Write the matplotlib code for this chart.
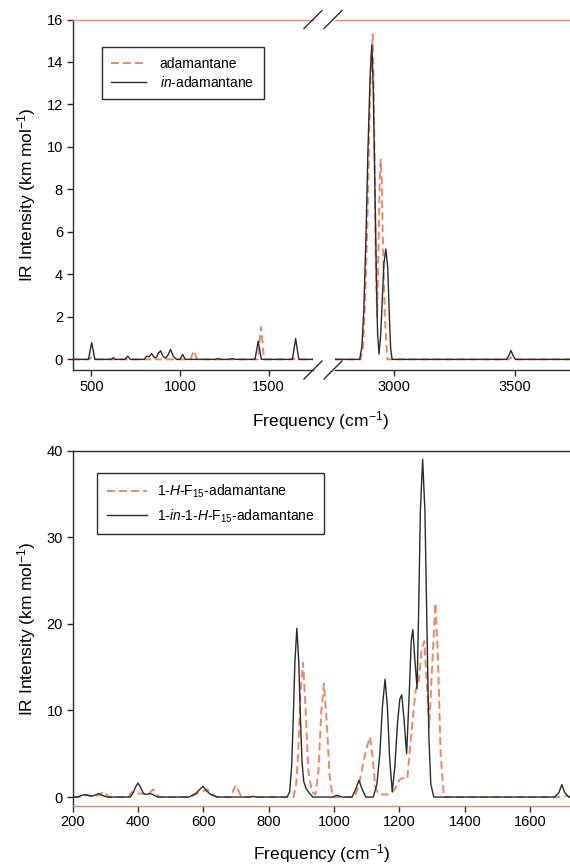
"""IR spectra of adamantane / in-adamantane and the fluorinated pair"""
import matplotlib
matplotlib.use("Agg")
import matplotlib.pyplot as plt

plt.rcParams['font.family'] = ['Liberation Sans', 'DejaVu Sans']
plt.rcParams['mathtext.fontset'] = 'custom'
plt.rcParams['mathtext.rm'] = 'Liberation Sans'
plt.rcParams['mathtext.it'] = 'Liberation Sans:italic'

RED = '#EE8668'
DARK = '#2b2b2b'

# ---- top panel, left part of the broken axis (cm-1, km/mol) ----
adam_lo_x = [395, 485, 498, 511, 770, 780, 788, 796, 840, 850, 858, 866,
             1060, 1068, 1078, 1088, 1096, 1440, 1448, 1457, 1466, 1474,
             1628, 1637, 1646, 1750]
adam_lo_y = [0, 0, 0.08, 0, 0, 0.03, 0.06, 0, 0, 0.05, 0.08, 0,
             0, 0.2, 0.4, 0.2, 0, 0, 0.75, 1.52, 0.75, 0,
             0, 0.06, 0, 0]
inadam_lo_x = [395, 484, 493, 502, 511, 520, 612, 624, 636, 690, 705, 720,
               798, 812, 826, 840, 856, 868, 878, 891, 904, 918, 932, 947,
               962, 980, 1000, 1015, 1030, 1200, 1215, 1230, 1280, 1295, 1310,
               1423, 1432, 1441, 1450, 1459, 1634, 1643, 1652, 1661, 1670, 1750]
inadam_lo_y = [0, 0, 0.4, 0.78, 0.4, 0, 0, 0.08, 0, 0, 0.15, 0,
               0, 0.15, 0.12, 0.27, 0.08, 0.1, 0.3, 0.4, 0.15, 0.05, 0.2, 0.47,
               0.15, 0, 0, 0.23, 0, 0, 0.04, 0, 0, 0.04, 0,
               0, 0.43, 0.86, 0.43, 0, 0, 0.5, 0.98, 0.5, 0, 0]

# ---- top panel, right part of the broken axis ----
adam_hi_x = [2755, 2862, 2872, 2880, 2890, 2898, 2905, 2912, 2918, 2924, 2930,
             2937, 2941, 2945, 2949, 2953, 2962, 2972, 3475, 3483, 3491, 3730]
adam_hi_y = [0, 0, 0.6, 2.5, 6.5, 11, 14, 15.3, 11, 5, 2.0,
             6.0, 8.6, 9.4, 8.4, 6.0, 2.0, 0, 0, 0.1, 0, 0]
inadam_hi_x = [2755, 2858, 2867, 2875, 2884, 2892, 2901, 2908, 2914, 2921, 2927,
               2932, 2938, 2945, 2952, 2958, 2966, 2974, 2981, 2986, 2992,
               3465, 3475, 3483, 3491, 3501, 3730]
inadam_hi_y = [0, 0, 0.6, 2.3, 5.8, 9.8, 13.3, 14.8, 12.8, 8.1, 3.8,
               1.2, 0.25, 1.2, 3.0, 4.5, 5.2, 4.3, 1.9, 0.5, 0,
               0, 0.2, 0.42, 0.2, 0, 0]

# ---- bottom panel ----
hf_x = [200, 230, 243, 255, 270, 285, 294, 303, 312, 370, 381, 392, 402, 412,
        425, 436, 446, 455, 465, 560, 575, 590, 600, 612, 624, 640, 684, 692,
        699, 706, 717, 876, 884, 890, 897, 905, 913, 921, 932, 943, 952, 961, 969,
        977, 986, 996, 1062, 1075, 1089, 1098, 1110, 1118, 1126, 1136, 1170,
        1186, 1200, 1212, 1224, 1238, 1250, 1258, 1268, 1276, 1284, 1291, 1300,
        1310, 1318, 1326, 1336, 1700, 1710, 1720, 1725]
hf_y = [0, 0, 0.25, 0.15, 0.1, 0.3, 0.66, 0.3, 0, 0, 0.6, 0.5, 0.4, 0.4,
        0.3, 0.5, 0.9, 0.4, 0, 0, 0.3, 0.6, 0.7, 0.9, 0.4, 0, 0, 0.8,
        1.35, 0.8, 0, 0, 1.5, 5, 12, 15.5, 10, 3, 0.6, 0.3, 3, 10, 13.1,
        9, 2.5, 0, 0, 1.2, 3.86, 5.5, 6.94, 4.5, 1.2, 0.3, 0.3,
        0.9, 2.0, 2.2, 2.1, 8, 12.5, 13, 17, 18, 13, 8.1, 15,
        22.4, 16, 5, 0, 0, 0.15, 0, 0]
inhf_x = [200, 215, 228, 238, 250, 260, 270, 279, 290, 305, 376, 385, 393, 400,
          408, 416, 424, 438, 450, 460, 556, 568, 578, 588, 599, 610, 622, 643,
          740, 751, 762, 856, 864, 870, 875, 880, 886, 892, 897, 902, 907, 914,
          925, 935, 995, 1009, 1025, 1055, 1066, 1076, 1086, 1097, 1120, 1131,
          1140, 1148, 1156, 1163, 1170, 1178, 1186, 1194, 1201, 1207, 1214, 1222,
          1230, 1236, 1241, 1247, 1254, 1259, 1264, 1271, 1278, 1284, 1290, 1296,
          1305, 1675, 1688, 1697, 1706, 1719, 1725]
inhf_y = [0, 0, 0.2, 0.28, 0.15, 0.1, 0.25, 0.4, 0.2, 0, 0, 0.5, 1.2, 1.62,
          1.1, 0.45, 0.3, 0.4, 0.2, 0, 0, 0.25, 0.45, 0.85, 1.24, 0.7, 0.3, 0,
          0, 0.08, 0, 0, 0.6, 3.5, 9, 15.5, 19.5, 15.5, 9, 4, 1.8, 1.0,
          0.4, 0, 0, 0.2, 0, 0, 0.9, 1.93, 0.9, 0, 0, 1.5,
          5, 10.5, 13.6, 10.5, 4.5, 0.6, 3.5, 8.5, 11.3, 11.8, 9, 5.0,
          12, 18, 19.35, 16, 12.5, 22, 33, 39, 33, 20, 7, 1.5,
          0, 0, 0.5, 1.43, 0.5, 0, 0]

W, H = 570, 868
fig = plt.figure(figsize=(W / 100, H / 100), dpi=100)


def px_axes(x0, x1, y_top, y_bot):
    return fig.add_axes([x0 / W, 1 - y_bot / H, (x1 - x0) / W, (y_bot - y_top) / H])


def style(ax):
    for s in ax.spines.values():
        s.set_color(DARK)
        s.set_linewidth(1.0)
    ax.spines['right'].set_visible(False)
    ax.tick_params(direction='out', length=4, width=1, color=DARK,
                   labelsize=10.5, pad=3)


ax1 = px_axes(72.7, 313, 19.5, 370)
ax2 = px_axes(335, 570, 19.5, 370)
ax3 = px_axes(72.7, 570, 450.7, 805.7)

for ax in (ax1, ax2, ax3):
    style(ax)

dash = (0, (4, 2.2))
ax1.plot(adam_lo_x, adam_lo_y, color=RED, lw=1.4, ls=dash, label='adamantane')
ax1.plot(inadam_lo_x, inadam_lo_y, color=DARK, lw=1.0, label=r'$\mathit{in}$-adamantane')
ax2.plot(adam_hi_x, adam_hi_y, color=RED, lw=1.4, ls=dash)
ax2.plot(inadam_hi_x, inadam_hi_y, color=DARK, lw=1.0)

ax1.set_xlim(395, 1750)
ax2.set_xlim(2756, 3727)
for ax in (ax1, ax2):
    ax.set_ylim(-0.5, 16)
    ax.spines['top'].set_color(RED)
ax1.set_yticks(range(0, 17, 2))
ax1.set_xticks([500, 1000, 1500])
ax2.set_xticks([3000, 3500])
ax2.spines['left'].set_visible(False)
ax2.tick_params(axis='y', left=False, labelleft=False)
ax1.set_ylabel(r'IR Intensity (km mol$^{-1}$)', fontsize=12.5, labelpad=6)
fig.text(321 / W, 1 - 421 / H, r'Frequency (cm$^{-1}$)', fontsize=12.5,
         ha='center', va='center')

# break marks
for xc in (313, 333):
    for yc in (19.5, 370):
        fig.add_artist(plt.Line2D([(xc - 9) / W, (xc + 9) / W],
                                  [1 - (yc + 9) / H, 1 - (yc - 9) / H],
                                  color=DARK, lw=1.0))

leg1 = ax1.legend(loc='upper left', bbox_to_anchor=(0.12, 0.922), fontsize=10,
                  frameon=True, fancybox=False, edgecolor=DARK, framealpha=1,
                  handlelength=2.5, handletextpad=1.0, borderpad=0.7,
                  labelspacing=0.3, borderaxespad=0)
leg1.get_frame().set_linewidth(1.0)

ax3.plot(hf_x, hf_y, color=RED, lw=1.4, ls=dash, label=r'1-$\mathit{H}$-F$_{15}$-adamantane')
ax3.plot(inhf_x, inhf_y, color=DARK, lw=1.0,
         label=r'1-$\mathit{in}$-1-$\mathit{H}$-F$_{15}$-adamantane')
ax3.set_xlim(200, 1722)
ax3.set_ylim(-1, 40)
ax3.set_xticks(range(200, 1700, 200))
ax3.set_yticks(range(0, 41, 10))
ax3.spines['bottom'].set_color(RED)
ax3.set_ylabel(r'IR Intensity (km mol$^{-1}$)', fontsize=12.5, labelpad=6)
ax3.set_xlabel(r'Frequency (cm$^{-1}$)', fontsize=12.5, labelpad=9)

leg2 = ax3.legend(loc='upper left', bbox_to_anchor=(0.049, 0.937), fontsize=10,
                  frameon=True, fancybox=False, edgecolor=DARK, framealpha=1,
                  handlelength=2.9, handletextpad=0.7, borderpad=0.7,
                  labelspacing=0.5, borderaxespad=0)
leg2.get_frame().set_linewidth(1.0)

fig.savefig('out.png', dpi=100)
